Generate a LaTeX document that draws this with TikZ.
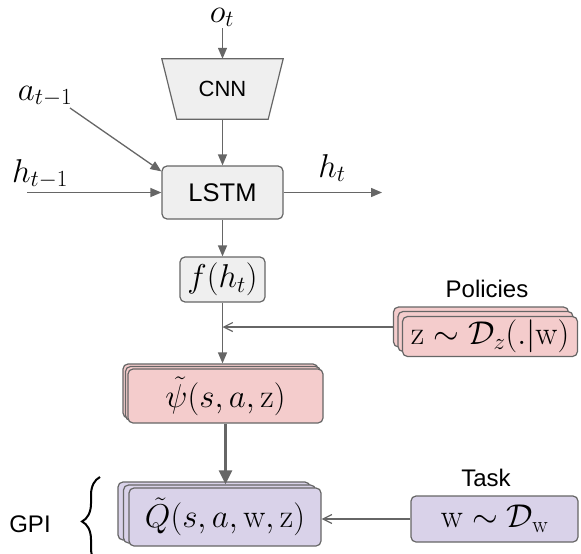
\RequirePackage{fix-cm}
\documentclass[tikz,border=0pt]{standalone}
\usepackage{amsmath}
\usepackage{fontspec}
\setsansfont{Liberation Sans}
\usetikzlibrary{arrows.meta,calc,decorations.pathreplacing}
\definecolor{linec}{HTML}{666666}
\definecolor{grayf}{HTML}{EFEFEF}
\definecolor{pinkf}{HTML}{F4CCCC}
\definecolor{purpf}{HTML}{D9D2E9}
\begin{document}
\begin{tikzpicture}[x=1pt,y=-1pt,
  box/.style={draw=linec, line width=1.2pt, rounded corners=5pt, inner sep=0pt},
  graybox/.style={box, fill=grayf},
  pinkbox/.style={box, fill=pinkf},
  purpbox/.style={box, fill=purpf},
  mathlbl/.style={font=\fontsize{33}{40}\selectfont, inner sep=0pt},
  sanslbl/.style={font=\sffamily\fontsize{24}{28}\selectfont, inner sep=0pt, anchor=base},
  conn/.style={draw=linec, line width=1.3pt, -{Triangle[length=11pt,width=9pt]}},
  thickconn/.style={draw=linec, line width=2.6pt, -{Triangle[length=14pt,width=13pt]}},
  openconn/.style={draw=linec, line width=1.2pt, -{Straight Barb[length=9pt,width=9pt]}},
  gpibrace/.style={draw=black, line width=2pt, decorate, decoration={brace, amplitude=18pt, aspect=0.5}},
]
\useasboundingbox (0,0) rectangle (581,554);

% CNN
\node[minimum width=121pt, minimum height=60pt, inner sep=0pt] (cnn) at (222.5,89) {};
\draw[draw=linec, line width=1.2pt, fill=grayf] (cnn.north west) -- (cnn.north east) -- ([xshift=-15pt]cnn.south east) -- ([xshift=15pt]cnn.south west) -- cycle;
\node[font=\sffamily\fontsize{22}{26}\selectfont, inner sep=0pt] (cnnlabel) at (cnn.center) {CNN};

% LSTM
\node[graybox, minimum width=121pt, minimum height=53pt, font=\sffamily\fontsize{25.5}{30}\selectfont] (lstm) at (222.5,192.5) {LSTM};

% f(h_t)
\node[graybox, minimum width=85pt, minimum height=45pt, mathlbl] (fh) at (222.5,279.5) {$f(h_t)$};

% psi stack
\node[pinkbox, minimum width=195pt, minimum height=54pt] (psi3) at (220.5,391) {};
\node[pinkbox, minimum width=195pt, minimum height=54pt] (psi2) at (223,393.5) {};
\node[pinkbox, minimum width=195pt, minimum height=54pt, mathlbl] (psi) at (225.5,396) {$\tilde{\psi}(s,a,\mathrm{z})$};

% Q stack
\node[purpbox, minimum width=192pt, minimum height=58pt] (q3) at (214,511) {};
\node[purpbox, minimum width=192pt, minimum height=58pt] (q2) at (219.5,514) {};
\node[purpbox, minimum width=192pt, minimum height=58pt, mathlbl] (q) at (225,517) {$\tilde{Q}(s,a,\mathrm{w},\mathrm{z})$};

% Policies stack
\node[pinkbox, minimum width=175pt, minimum height=40pt] (pol3) at (481,327) {};
\node[pinkbox, minimum width=175pt, minimum height=40pt] (pol2) at (485.5,331.5) {};
\node[pinkbox, minimum width=175pt, minimum height=40pt, mathlbl] (pol) at (490,336.5) {$\mathrm{z}\sim\mathcal{D}_z(.|\mathrm{w})$};

% Task
\node[purpbox, minimum width=167pt, minimum height=46pt, mathlbl] (task) at (494.5,519) {$\mathrm{w}\sim\mathcal{D}_{\mathrm{w}}$};

% labels
\node[mathlbl, anchor=base] (ot) at (222,22) {$o_t$};
\node[mathlbl, anchor=base] (at) at (45,100) {$a_{t-1}$};
\node[mathlbl, anchor=base] (ht1) at (40,182) {$h_{t-1}$};
\node[mathlbl, anchor=base] (ht) at (332,177) {$h_t$};
\node[sanslbl] (pollbl) at (487,297) {Policies};
\node[sanslbl] (tasklbl) at (486,486) {Task};
\node[sanslbl] (gpi) at (30,532) {GPI};

% GPI brace
\coordinate (brbot) at (100,566);
\coordinate (brtop) at (100,477);
\draw[gpibrace] (brbot) -- (brtop);

% connectors
\coordinate (ostart) at (222.5,28);
\draw[conn] (ostart) -- (cnn.north);
\draw[conn] (cnn.south) -- (lstm.north);
\coordinate (astart) at (70,108);
\draw[conn] (astart) -- ([yshift=-6pt]lstm.north west);
\coordinate (hstart) at (27,192.5);
\draw[conn] (hstart) -- (lstm.west);
\coordinate (hend) at (382,192.5);
\draw[conn] (lstm.east) -- (hend);
\draw[conn] (lstm.south) -- (fh.north);
\draw[conn] (fh.south) -- (fh.south |- psi3.north);
\draw[openconn] (pol3.west) -- (pol3.west -| fh.south);
\draw[thickconn] (psi.south) -- (psi.south |- q2.north);
\draw[openconn] (task.west) -- (task.west -| q.east);
\end{tikzpicture}
\end{document}
